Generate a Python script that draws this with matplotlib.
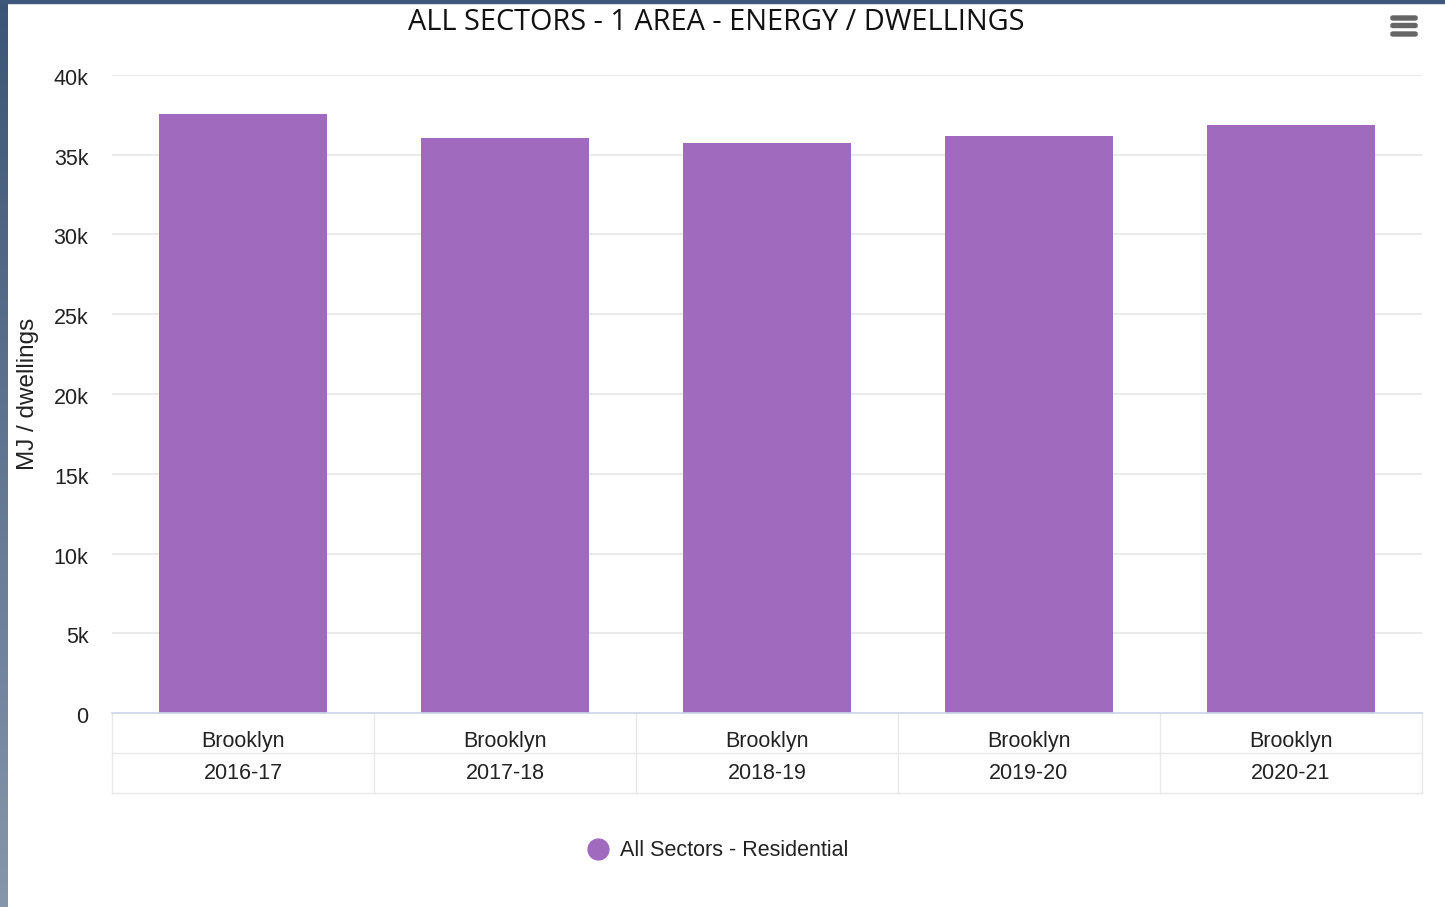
import numpy as np
import matplotlib.pyplot as plt
import matplotlib.transforms as mtransforms
from matplotlib.patches import FancyBboxPatch

# data
areas = ["Brooklyn", "Brooklyn", "Brooklyn", "Brooklyn", "Brooklyn"]
years = ["2016-17", "2017-18", "2018-19", "2019-20", "2020-21"]
energy_per_dwelling = [37550, 36050, 35750, 36180, 36880]
yticks = [0, 5000, 10000, 15000, 20000, 25000, 30000, 35000, 40000]
ytick_labels = ["0", "5k", "10k", "15k", "20k", "25k", "30k", "35k", "40k"]

bar_color = "#a06abe"
grid_color = "#e6e6e6"
text_color = "#222222"
plt.rcParams["font.family"] = ["Liberation Sans", "DejaVu Sans"]

W, H = 1445, 907
fig = plt.figure(figsize=(W / 100, H / 100), dpi=100)
fig.patch.set_facecolor("white")

# dark screenshot frame on left / top
frame = fig.add_axes([0, 0, 8 / W, 1])
grad = np.linspace(0, 1, 256).reshape(-1, 1)
top_c = np.array([0x3b, 0x55, 0x76]) / 255
bot_c = np.array([0x86, 0x96, 0xac]) / 255
img = top_c[None, None, :] * (1 - grad[:, :, None]) + bot_c[None, None, :] * grad[:, :, None]
frame.imshow(img, aspect="auto", extent=[0, 1, 0, 1], origin="upper")
frame.axis("off")
fig.add_artist(plt.Rectangle((0, 1 - 3 / H), 1, 3 / H, transform=fig.transFigure,
                             color="#3d5878", zorder=5))

ax = fig.add_axes([112 / W, (H - 713) / H, 1310 / W, 638 / H])
x = np.arange(len(years))
ax.bar(x, energy_per_dwelling, width=0.64, color=bar_color, zorder=3)
ax.set_xlim(-0.5, len(years) - 0.5)
ax.set_ylim(0, 40000)
ax.set_yticks(yticks)
ax.set_yticklabels(ytick_labels, fontsize=15.5, color=text_color)
ax.tick_params(axis="y", length=0, pad=17)
shift = mtransforms.ScaledTranslation(0, -2 / 100, fig.dpi_scale_trans)
for lbl in ax.get_yticklabels():
    lbl.set_transform(lbl.get_transform() + shift)
ax.set_xticks([])
ax.grid(axis="y", color=grid_color, linewidth=1.2, zorder=0)
for s in ["top", "right", "left"]:
    ax.spines[s].set_visible(False)
ax.spines["bottom"].set_color("#ccd6eb")
ax.spines["bottom"].set_linewidth(1.2)
ax.spines["bottom"].set_zorder(4)

ax.set_ylabel("MJ / dwellings", fontsize=17.5, color=text_color)
ax.yaxis.set_label_coords(-73 / 1310, 0.5)

# grouped category table below the axis
row = 40 / 638
tr = ax.transAxes
line_kw = dict(color="#e8e8e8", linewidth=1.0, transform=tr, clip_on=False)
ax.plot([0, 1], [-row, -row], **line_kw)
ax.plot([0, 1], [-2 * row, -2 * row], **line_kw)
ax.plot([0, 0], [0, -2 * row], **line_kw)
ax.plot([1, 1], [0, -2 * row], **line_kw)
for i in range(1, len(years)):
    xb = i / len(years)
    ax.plot([xb, xb], [0, -2 * row], **line_kw)
for i, (a, yr) in enumerate(zip(areas, years)):
    xc = (i + 0.5) / len(years)
    ax.text(xc, -row * 0.7, a, transform=tr, ha="center", va="center",
            fontsize=15.5, color=text_color)
    ax.text(xc, -row * 1.52, yr, transform=tr, ha="center", va="center",
            fontsize=15.5, color=text_color)

# title
fig.text(716 / W, 1 - 23 / H, "ALL SECTORS - 1 AREA - ENERGY / DWELLINGS",
         ha="center", va="center", fontsize=20.8, color="#111111",
         family="Open Sans")

# legend
fig.lines.append(plt.Line2D([598 / W], [1 - 849 / H], marker="o", markersize=15,
                            color=bar_color, transform=fig.transFigure))
fig.text(620 / W, 1 - 850 / H, "All Sectors - Residential", ha="left", va="center",
         fontsize=15.5, color=text_color)

# hamburger menu icon
for yy in [18, 25.5, 34]:
    fig.add_artist(FancyBboxPatch((1391 / W, (H - yy - 2) / H), 26 / W, 4 / H,
                                  boxstyle="round,pad=0,rounding_size=0.0015",
                                  transform=fig.transFigure, color="#666666"))

fig.savefig("out.png", dpi=100)
